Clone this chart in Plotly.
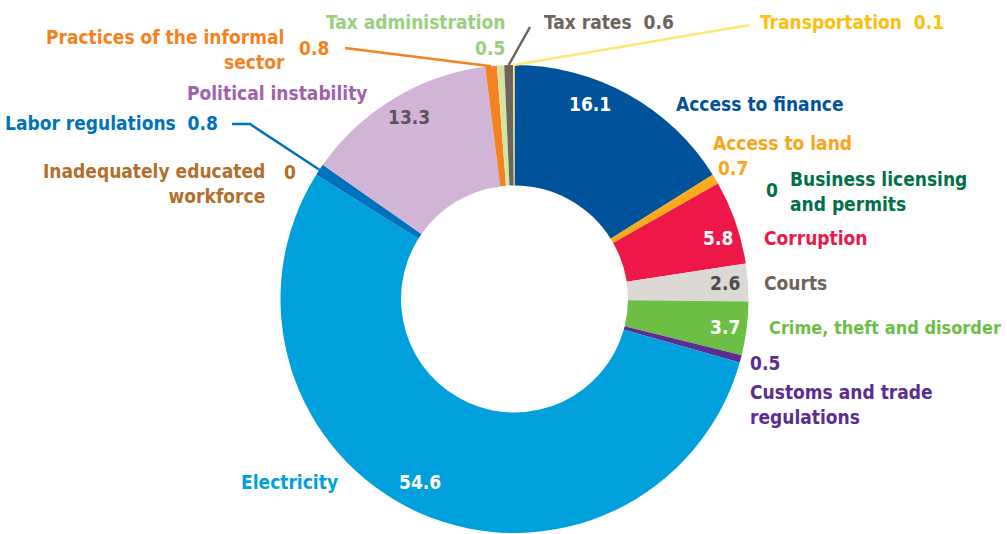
import math
import plotly.graph_objects as go

categories = ["Access to finance", "Access to land", "Business licensing and permits",
              "Corruption", "Courts", "Crime, theft and disorder",
              "Customs and trade regulations", "Electricity",
              "Inadequately educated workforce", "Labor regulations",
              "Political instability", "Practices of the informal sector",
              "Tax administration", "Tax rates", "Transportation"]
values = [16.1, 0.7, 0, 5.8, 2.6, 3.7, 0.5, 54.6, 0, 0.8, 13.3, 0.8, 0.5, 0.6, 0.1]
slice_colors = ["#00529B", "#FBAA1A", "#00704A", "#ED1848", "#DCD8D3", "#6DBE45",
                "#5C2D91", "#00A0DC", "#B26F2C", "#0072BC", "#D2B5D6", "#F58220",
                "#D4E5A3", "#6D645C", "#FFE873"]
text_colors = ["#00529B", "#F9A51A", "#00704A", "#ED1848", "#6E6259", "#6DBE45",
               "#5C2D91", "#00A0DC", "#B26F2C", "#0072BC", "#A062AC", "#F58220",
               "#9BCF7E", "#6D645C", "#FDC010"]

W, H = 1007, 534
CX, CY, R = 514.5, 299.0, 234.0
HOLE = 0.485
FONT = "DejaVu Sans Condensed, sans-serif"
FS = 19

def px(x):
    return x / W

def py(y):
    return 1 - y / H

fig = go.Figure(go.Pie(
    labels=categories, values=values, sort=False, direction="clockwise", rotation=0,
    hole=HOLE, marker=dict(colors=slice_colors, line=dict(width=0)),
    textinfo="none", hoverinfo="label+value", showlegend=False,
    domain=dict(x=[px(CX - R), px(CX + R)], y=[py(CY + R), py(CY - R)]),
))

annotations = []

def ann(text, x, y, color, xanchor="left", align="left", size=FS):
    annotations.append(dict(text=text, x=px(x), y=py(y), xref="paper", yref="paper",
                            showarrow=False, xanchor=xanchor, yanchor="middle", align=align,
                            font=dict(family=FONT, size=size, color=color, weight="bold")))

idx = {c: i for i, c in enumerate(categories)}

def val(c):
    v = values[idx[c]]
    return "0" if v == 0 else f"{v:g}"

# category labels (outer) and values
i = idx["Access to finance"]; ann(categories[i], 674, 104, text_colors[i])
ann(val("Access to finance"), 590, 104, "#FFFFFF", "center")
i = idx["Access to land"]; ann(categories[i], 711, 143, text_colors[i])
ann(val("Access to land"), 733, 168, text_colors[i], "center")
i = idx["Business licensing and permits"]
ann("Business licensing<br>and permits", 788, 191, text_colors[i])
ann(val(categories[i]), 772, 190, text_colors[i], "center")
i = idx["Corruption"]; ann(categories[i], 762, 238, text_colors[i])
ann(val(categories[i]), 718, 238, "#FFFFFF", "center")
i = idx["Courts"]; ann(categories[i], 762, 283, text_colors[i])
ann(val(categories[i]), 725, 283, "#4D4D4F", "center")
i = idx["Crime, theft and disorder"]; ann(categories[i], 1003, 327, text_colors[i], "right", "right", 18)
ann(val(categories[i]), 725, 327, "#FFFFFF", "center")
i = idx["Customs and trade regulations"]
ann(val(categories[i]), 748, 363, text_colors[i])
ann("Customs and trade<br>regulations", 748, 404, text_colors[i])
i = idx["Electricity"]; ann(categories[i], 340, 482, text_colors[i], "right", "right")
ann(val(categories[i]), 420, 482, "#FFFFFF", "center")
i = idx["Inadequately educated workforce"]
ann("Inadequately educated<br>workforce", 267, 184, text_colors[i], "right", "right")
ann(val(categories[i]), 290, 172, text_colors[i], "center")
i = idx["Labor regulations"]
ann(categories[i] + "  " + val(categories[i]), 220, 123, text_colors[i], "right", "right")
i = idx["Political instability"]; ann(categories[i], 370, 93, text_colors[i], "right", "right")
ann(val(categories[i]), 409, 117, "#575757", "center")
i = idx["Practices of the informal sector"]
ann("Practices of the informal<br>sector", 287, 49, text_colors[i], "right", "right")
ann(val(categories[i]), 297, 48, text_colors[i])
i = idx["Tax administration"]; ann(categories[i], 507, 22, text_colors[i], "right", "right")
ann(val(categories[i]), 507, 48, text_colors[i], "right", "right")
i = idx["Tax rates"]; ann(categories[i] + "  " + val(categories[i]), 542, 22, text_colors[i])
i = idx["Transportation"]; ann(categories[i] + "  " + val(categories[i]), 758, 22, text_colors[i])

# leader lines: slice end computed from the data
total = sum(values)

def slice_point(cat):
    before = sum(values[:idx[cat]])
    mid = (before + values[idx[cat]] / 2) / total * 2 * math.pi
    return CX + R * math.sin(mid), CY - R * math.cos(mid)

shapes = []

def leader(cat, pts, color):
    ex, ey = slice_point(cat)
    allp = pts + [(ex, ey)]
    path = "M " + " L ".join(f"{px(x)},{py(y)}" for x, y in allp)
    shapes.append(dict(type="path", path=path, xref="paper", yref="paper",
                       line=dict(color=color, width=2.5)))

leader("Labor regulations", [(232, 124), (250, 124)], slice_colors[idx["Labor regulations"]])
leader("Practices of the informal sector", [(345, 48)], slice_colors[idx["Practices of the informal sector"]])
leader("Tax rates", [(530, 27)], slice_colors[idx["Tax rates"]])
leader("Transportation", [(750, 25)], slice_colors[idx["Transportation"]])

fig.update_layout(width=W, height=H, margin=dict(l=0, r=0, t=0, b=0),
                  paper_bgcolor="white", plot_bgcolor="white",
                  annotations=annotations, shapes=shapes)
fig.write_html("out.html")
